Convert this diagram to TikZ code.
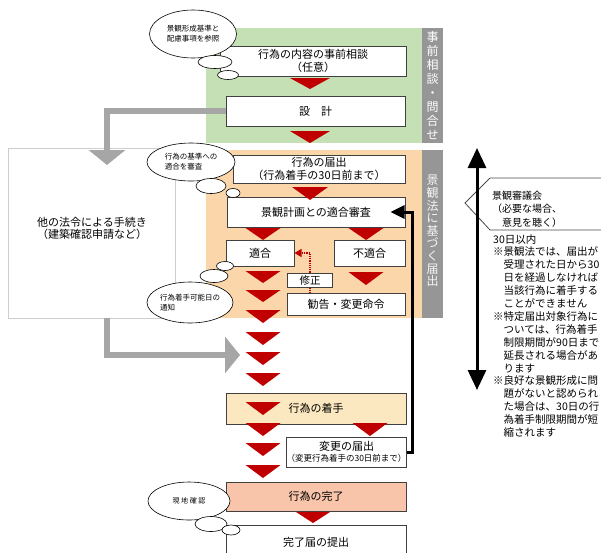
\documentclass[tikz,border=0pt]{standalone}
\usepackage{fontspec}
\setmainfont{Noto Sans CJK JP}
\usetikzlibrary{shapes.geometric,arrows.meta}
\definecolor{bggreen}{RGB}{197,224,180}
\definecolor{bgorange}{RGB}{250,214,170}
\definecolor{bargray}{RGB}{150,150,150}
\definecolor{tred}{RGB}{192,0,0}
\definecolor{gconn}{RGB}{166,166,166}
\definecolor{lbox}{RGB}{205,205,205}
\definecolor{boxline}{RGB}{64,64,64}
\definecolor{startfill}{RGB}{252,232,192}
\definecolor{endfill}{RGB}{248,196,170}
\newcommand{\fsz}[2]{\fontsize{#1}{#2}\selectfont}
\newcommand{\rtri}[4]{\fill[tred] (#1-#3/2,#2) -- (#1+#3/2,#2) -- (#1,#2+#4) -- cycle;}
\begin{document}
\begin{tikzpicture}[x=1pt,y=-1pt,
  box/.style={draw=boxline, line width=1pt, fill=white, align=center, inner sep=0pt, font=\fsz{11}{13}},
  bubble/.style={ellipse, draw=black, line width=0.6pt, fill=white, inner sep=0pt, align=left, font=\fsz{7.5}{10}},
  puff/.style={ellipse, draw=black, line width=0.6pt, fill=white, inner sep=0pt},
  grayconn/.style={draw=gconn, line width=6pt, -{Triangle[width=36pt,length=15pt]}},
  vlabel/.style={align=center, text=white, inner sep=0pt},
  reddot/.style={draw=tred, line width=1.2pt, densely dotted},
  fback/.style={draw=black, line width=3pt, -{Triangle[width=13pt,length=14pt]}}
]
\useasboundingbox (0,0) rectangle (601,552);
% background regions
\fill[bggreen] (206,28) rectangle (422,143);
\fill[bgorange] (206,150) rectangle (422,318);
\fill[bargray] (422,28) rectangle (443,143);
\fill[bargray] (422,150) rectangle (443,318);
\node[vlabel, font=\fsz{12}{14}] (lab1) at (432.5,85.5) {事\\前\\相\\談\\・\\問\\合\\せ};
\node[vlabel, font=\fsz{12}{12.6}, text=white!92!gray] (lab2) at (432.5,231) {景\\観\\法\\に\\基\\づ\\く\\届\\出};
% left box
\node[draw=lbox, line width=0.8pt, minimum width=167pt, minimum height=170pt, inner sep=0pt] (leftbox) at (91.5,233) {};
\node[align=center, font=\fsz{11}{12}, inner sep=0pt] (lefttext) at (92,228) {他の法令による手続き\\（建築確認申請など）};
% boxes
\node[box, minimum width=186pt, minimum height=30pt] (soudan) at (313,61) {行為の内容の事前相談\\（任意）};
\node[box, minimum width=179pt, minimum height=30pt] (sekkei) at (315.5,111) {設　計};
\node[box, minimum width=172pt, minimum height=28pt] (todoke) at (319,169) {行為の届出\\（行為着手の30日前まで）};
\node[box, minimum width=178pt, minimum height=30pt] (shinsa) at (316,212) {景観計画との適合審査};
\node[box, minimum width=68pt, minimum height=26pt] (tekigo) at (260,253) {適合};
\node[box, minimum width=71pt, minimum height=26pt] (futekigo) at (369.5,253) {不適合};
\node[box, minimum width=45pt, minimum height=14pt, font=\fsz{10.5}{12}] (shusei) at (310,280) {修正};
\node[box, minimum width=118pt, minimum height=22pt] (kankoku) at (346,304) {勧告・変更命令};
\node[box, fill=startfill, minimum width=180pt, minimum height=31pt] (chakushu) at (316,408.5) {行為の着手};
\node[box, minimum width=119pt, minimum height=30pt] (henkou) at (346.5,452) {変更の届出\\[-2pt]{\fsz{8.5}{10}（変更行為着手の30日前まで）}};
\node[box, fill=endfill, minimum width=180pt, minimum height=29pt] (kanryo) at (316,496.5) {行為の完了};
\node[box, minimum width=180pt, minimum height=34pt] (kanryotodoke) at (316,542) {完了届の提出};
% gray connectors
\coordinate (ga1) at (107,165);
\coordinate (ga2) at (240,355);
\draw[grayconn] (sekkei.west) -| (ga1);
\draw[grayconn] ([xshift=15.5pt]leftbox.south) |- (ga2);
% red triangles
\rtri{310}{78}{40}{11}
\rtri{310}{131}{40}{12}
\rtri{310}{187}{36}{13}
\rtri{263}{228}{35}{12}
\rtri{366}{228}{35}{12}
\rtri{366}{272}{35}{13}
\rtri{263}{271}{35}{12}
\rtri{263}{290}{35}{12}
\rtri{263}{310}{35}{13}
\rtri{263}{332}{35}{13}
\rtri{263}{352}{35}{13}
\rtri{263}{373}{35}{13}
\rtri{263}{402}{35}{13}
\rtri{263}{423}{35}{13}
\rtri{263}{443}{35}{13}
\rtri{263}{465}{35}{13}
\rtri{370}{423}{35}{13}
\rtri{313}{512}{34}{11}
% dotted correction
\draw[reddot, -{Triangle[width=8pt,length=7pt]}] (shusei.north) |- (tekigo.east);
\draw[reddot] (shusei.south) -- (shusei.south |- kankoku.north);
% feedback
\coordinate (fbtop) at (412,212);
\draw[fback] (henkou.east) -| (fbtop) -- ([xshift=-15pt]shinsa.east);
% bubbles
\node[bubble, minimum width=87pt, minimum height=48pt] (b1) at (193,34) {景観形成基準と\\配慮事項を参照};
\node[puff, minimum width=34pt, minimum height=13pt] (b1a) at (215,62) {};
\node[puff, minimum width=21pt, minimum height=9pt] (b1b) at (228,75) {};
\node[bubble, minimum width=88pt, minimum height=38pt] (b2) at (191,162) {行為の基準への\\適合を審査};
\node[puff, minimum width=30pt, minimum height=15pt] (b2a) at (211,186) {};
\node[puff, minimum width=14pt, minimum height=9pt] (b2b) at (233,193) {};
\node[bubble, minimum width=86pt, minimum height=41pt] (b3) at (190,302.5) {行為着手可能日の\\通知};
\node[puff, minimum width=28pt, minimum height=13pt] (b3a) at (214,276) {};
\node[puff, minimum width=17pt, minimum height=9pt] (b3b) at (225,266) {};
\node[bubble, minimum width=82pt, minimum height=38pt, font=\fsz{7}{9}] (b4) at (189,501) {現\ 地\ 確\ 認};
\node[puff, minimum width=32pt, minimum height=15pt] (b4a) at (211,524) {};
\node[puff, minimum width=18pt, minimum height=10pt] (b4b) at (231,530) {};
% right side
\draw[line width=0.8pt, draw=black!70, fill=white] (465,203) -- (490,178) -- (612,178) -- (612,230) -- (490,230) -- cycle;
\node[anchor=west, align=left, font=\fsz{10}{13.5}, inner sep=0pt] (shingikai) at (492,209) {景観審議会\\（必要な場合、\\　意見を聴く）};
\coordinate (dtop) at (477,148);
\coordinate (dbot) at (477,390);
\draw[line width=3pt, {Triangle[width=18pt,length=20pt]}-{Triangle[width=18pt,length=20pt]}] (dtop) -- (dbot);
\node[anchor=north west, align=left, font=\fsz{10.5}{12.9}, inner sep=0pt] (note) at (493,234) {30日以内\\※景観法では、届出が\\　受理された日から30\\　日を経過しなければ\\　当該行為に着手する\\　ことができません\\※特定届出対象行為に\\　ついては、行為着手\\　制限期間が90日まで\\　延長される場合があ\\　ります\\※良好な景観形成に問\\　題がないと認められ\\　た場合は、30日の行\\　為着手制限期間が短\\　縮されます};
\end{tikzpicture}
\end{document}
